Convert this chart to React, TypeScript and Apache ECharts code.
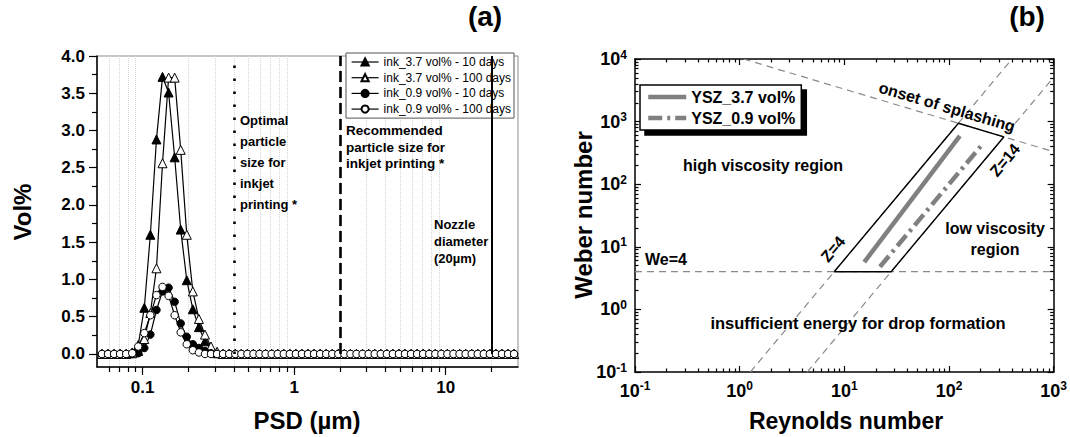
import React, { useEffect, useRef } from "react";
import * as echarts from "echarts";

const FONT = '"Liberation Sans", Arial, Helvetica, sans-serif';

// ---------------- Panel (a): particle size distribution ----------------
const psdSizes = [
  0.0539, 0.0591, 0.0648, 0.071, 0.0779, 0.0854, 0.0936, 0.1026, 0.1125, 0.1234,
  0.1353, 0.1484, 0.1627, 0.1784, 0.1956, 0.2145, 0.2352, 0.2579, 0.2827, 0.31,
  0.3399, 0.3727, 0.4087, 0.4481, 0.4914, 0.5386, 0.5906, 0.6476, 0.7101, 0.7786,
  0.8537, 0.9361, 1.026, 1.125, 1.234, 1.353, 1.484, 1.627, 1.784, 1.956,
  2.145, 2.352, 2.579, 2.827, 3.1, 3.399, 3.727, 4.087, 4.481, 4.914,
  5.386, 5.906, 6.476, 7.101, 7.786, 8.537, 9.361, 10.26, 11.25, 12.34,
  13.53, 14.84, 16.27, 17.84, 19.56, 21.45, 23.52, 25.79, 28.27,
];
const ink37Days10 = [
  0, 0, 0, 0, 0, 0.02, 0.12, 0.62, 1.6, 2.88,
  3.72, 3.51, 2.64, 1.67, 0.99, 0.6, 0.36, 0.17, 0.06, 0.01,
  0, 0, 0, 0, 0, 0, 0, 0, 0, 0,
  0, 0, 0, 0, 0, 0, 0, 0, 0, 0,
  0, 0, 0, 0, 0, 0, 0, 0, 0, 0,
  0, 0, 0, 0, 0, 0, 0, 0, 0, 0,
  0, 0, 0, 0, 0, 0, 0, 0, 0,
];
const ink37Days100 = [
  0, 0, 0, 0, 0, 0.01, 0.04, 0.2, 0.55, 1.15,
  2.56, 3.71, 3.71, 2.74, 1.6, 0.84, 0.47, 0.26, 0.1, 0.03,
  0, 0, 0, 0, 0, 0, 0, 0, 0, 0,
  0, 0, 0, 0, 0, 0, 0, 0, 0, 0,
  0, 0, 0, 0, 0, 0, 0, 0, 0, 0,
  0, 0, 0, 0, 0, 0, 0, 0, 0, 0,
  0, 0, 0, 0, 0, 0, 0, 0, 0,
];
const ink09Days10 = [
  0, 0, 0, 0, 0, 0, 0.01, 0.08, 0.26, 0.59,
  0.84, 0.89, 0.7, 0.41, 0.23, 0.13, 0.08, 0.04, 0.01, 0,
  0, 0, 0, 0, 0, 0, 0, 0, 0, 0,
  0, 0, 0, 0, 0, 0, 0, 0, 0, 0,
  0, 0, 0, 0, 0, 0, 0, 0, 0, 0,
  0, 0, 0, 0, 0, 0, 0, 0, 0, 0,
  0, 0, 0, 0, 0, 0, 0, 0, 0,
];
const ink09Days100 = [
  0, 0, 0, 0, 0, 0.01, 0.1, 0.28, 0.52, 0.79,
  0.9, 0.78, 0.52, 0.29, 0.13, 0.05, 0.02, 0, 0, 0,
  0, 0, 0, 0, 0, 0, 0, 0, 0, 0,
  0, 0, 0, 0, 0, 0, 0, 0, 0, 0,
  0, 0, 0, 0, 0, 0, 0, 0, 0, 0,
  0, 0, 0, 0, 0, 0, 0, 0, 0, 0,
  0, 0, 0, 0, 0, 0, 0, 0, 0,
];
const inkNames = [
  "ink_3.7 vol% - 10 days",
  "ink_3.7 vol% - 100 days",
  "ink_0.9 vol% - 10 days",
  "ink_0.9 vol% - 100 days",
];
const psdMajorTicks = [0.1, 1, 10];
const psdMinorTicks = [0.06, 0.07, 0.08, 0.09, 0.2, 0.3, 0.4, 0.5, 0.6, 0.7, 0.8, 0.9, 2, 3, 4, 5, 6, 7, 8, 9, 20];
const volMajorTicks = [0, 0.5, 1, 1.5, 2, 2.5, 3, 3.5, 4];
const volMinorTicks = [0.25, 0.75, 1.25, 1.75, 2.25, 2.75, 3.25, 3.75];
const optimalSize = 0.4;
const recommendedSize = 2;
const nozzleDiameter = 20;

// ---------------- Panel (b): Re–We printability map ----------------
const reMajorTicks = [0.1, 1, 10, 100, 1000];
const weMajorTicks = [0.1, 1, 10, 100, 1000, 10000];
const reMinorTicks = [
  0.2, 0.3, 0.4, 0.5, 0.6, 0.7, 0.8, 0.9, 2, 3, 4, 5, 6, 7, 8, 9,
  20, 30, 40, 50, 60, 70, 80, 90, 200, 300, 400, 500, 600, 700, 800, 900,
];
const weMinorTicks = [
  0.2, 0.3, 0.4, 0.5, 0.6, 0.7, 0.8, 0.9, 2, 3, 4, 5, 6, 7, 8, 9,
  20, 30, 40, 50, 60, 70, 80, 90, 200, 300, 400, 500, 600, 700, 800, 900,
  2000, 3000, 4000, 5000, 6000, 7000, 8000, 9000,
];
const weLimitLine = [[0.1, 4], [1000, 4]];
const z4Line = [[1.265, 0.1], [400, 10000]];
const z14Line = [[4.43, 0.1], [1000, 5102]];
const splashLine = [[1.09, 10000], [1000, 330]];
const printableWindow = [[8, 4], [28, 4], [334, 569], [123, 942], [8, 4]];
const ysz37 = [[15.5, 5.7], [127, 590]];
const ysz09 = [[21.9, 4.8], [214, 457]];
const yszNames = ["YSZ_3.7 vol%", "YSZ_0.9 vol%"];

const BLACK = "#000";
const GRAY = "#808080";
const DASH_GRAY = "#8a8a8a";

function pairs(xs: number[], ys: number[]) {
  return xs.map((x, i) => [x, ys[i]]);
}

const boldLabel = (size: number) => ({
  color: BLACK,
  fontSize: size,
  fontWeight: "bold" as const,
  fontFamily: FONT,
});

const powRich = {
  b: { ...boldLabel(18) },
  s: { ...boldLabel(12), padding: [0, 0, 9, 0] },
};
const powFormatter = (v: number) => `{b|10}{s|${Math.round(Math.log10(v))}}`;

function tickAxis(opts: any) {
  const {
    gridIndex, type, min, max, position, ticks, len, inside, line, labels, labelOpts, split,
  } = opts;
  return {
    gridIndex,
    type,
    min,
    max,
    position,
    axisLine: { show: !!line, onZero: false, lineStyle: { color: BLACK, width: 1.5 } },
    axisTick: {
      show: true,
      inside,
      length: len,
      customValues: ticks,
      lineStyle: { color: BLACK, width: 1.2 },
    },
    axisLabel: labels
      ? { show: true, customValues: labels, ...labelOpts }
      : { show: false },
    splitLine: split ? { show: true, lineStyle: split } : { show: false },
    minorTick: { show: false },
  };
}

function text(t: string, x: number, y: number, size: number, o: any = {}) {
  const align = o.align || "center";
  const va = o.va || "middle";
  return {
    type: "text",
    x,
    y,
    rotation: o.rotation || 0,
    silent: true,
    z: 100,
    style: {
      text: t,
      font: `bold ${size}px ${FONT}`,
      fill: BLACK,
      align,
      verticalAlign: va,
      textAlign: align,
      textVerticalAlign: va,
      lineHeight: o.lineHeight,
    },
  };
}

function buildOption() {
  const inkSeriesStyle = [
    { symbol: "triangle", size: 9, fill: BLACK },
    { symbol: "triangle", size: 9, fill: "#fff" },
    { symbol: "circle", size: 7.5, fill: BLACK },
    { symbol: "circle", size: 7.5, fill: "#fff" },
  ];
  const inkData = [ink37Days10, ink37Days100, ink09Days10, ink09Days100];

  const leftSeries: any[] = inkData.map((d, i) => ({
    name: inkNames[i],
    type: "line",
    xAxisIndex: 0,
    yAxisIndex: 0,
    data: pairs(psdSizes, d),
    symbol: inkSeriesStyle[i].symbol,
    symbolSize: inkSeriesStyle[i].size,
    showSymbol: true,
    showAllSymbol: true,
    color: BLACK,
    itemStyle: { color: inkSeriesStyle[i].fill, borderColor: BLACK, borderWidth: 1 },
    lineStyle: { color: BLACK, width: 1.2 },
    z: 3,
  }));
  leftSeries[0].markLine = {
    silent: true,
    symbol: ["none", "none"],
    label: { show: false },
    data: [
      [
        { coord: [optimalSize, 0], lineStyle: { color: BLACK, width: 2.6, type: [2.5, 10.5] } },
        { coord: [optimalSize, 4] },
      ],
      [
        { coord: [recommendedSize, 0], lineStyle: { color: BLACK, width: 2.6, type: [11, 5] } },
        { coord: [recommendedSize, 4] },
      ],
      [
        { coord: [nozzleDiameter, 0], lineStyle: { color: BLACK, width: 2, type: "solid" } },
        { coord: [nozzleDiameter, 4] },
      ],
    ],
  };

  const dashed = { color: DASH_GRAY, width: 1.2, type: [7, 5] };
  const refLine = (name: string, data: number[][], lineStyle: any, extra: any = {}) => ({
    name,
    type: "line",
    xAxisIndex: 2,
    yAxisIndex: 2,
    data,
    symbol: "none",
    showSymbol: false,
    silent: true,
    lineStyle,
    ...extra,
  });

  const rightSeries = [
    refLine("We=4", weLimitLine, dashed),
    refLine("Z=4", z4Line, dashed),
    refLine("Z=14", z14Line, dashed),
    refLine("splashing", splashLine, dashed),
    refLine("window", printableWindow, { color: BLACK, width: 1.4 }),
    refLine(yszNames[0], ysz37, { color: GRAY, width: 4.5 }, { color: GRAY, itemStyle: { color: GRAY } }),
    refLine(yszNames[1], ysz09, { color: GRAY, width: 4.5, type: [14, 5, 3, 5] }, { color: GRAY, itemStyle: { color: GRAY } }),
  ];

  const lx = { gridIndex: 0, type: "log", min: 0.05, max: 30 };
  const ly = { gridIndex: 0, type: "value", min: -0.175, max: 4 };
  const rx = { gridIndex: 1, type: "log", min: 0.1, max: 1000 };
  const ry = { gridIndex: 1, type: "log", min: 0.1, max: 10000 };

  return {
    animation: false,
    backgroundColor: "#fff",
    grid: [
      { left: 97, top: 56, width: 421, height: 311, show: true, borderColor: "#8c8c8c", borderWidth: 1, backgroundColor: "transparent" },
      { left: 635, top: 59, width: 422, height: 313 },
    ],
    xAxis: [
      tickAxis({
        ...lx, position: "bottom", ticks: psdMajorTicks, len: 8, inside: false, line: true,
        labels: psdMajorTicks,
        labelOpts: { ...boldLabel(17), margin: 12, formatter: (v: number) => String(Number(v.toPrecision(3))) },
      }),
      tickAxis({
        ...lx, position: "bottom", ticks: psdMinorTicks, len: 5, inside: false, line: false,
        split: { color: "#d4d4d4", type: "dotted", width: 1 },
      }),
      tickAxis({
        ...rx, position: "bottom", ticks: reMajorTicks, len: 6, inside: true, line: true,
        labels: reMajorTicks, labelOpts: { margin: 8, formatter: powFormatter, rich: powRich },
      }),
      tickAxis({ ...rx, position: "bottom", ticks: reMinorTicks, len: 3.5, inside: true, line: false }),
      tickAxis({ ...rx, position: "top", ticks: reMajorTicks, len: 6, inside: true, line: true }),
      tickAxis({ ...rx, position: "top", ticks: reMinorTicks, len: 3.5, inside: true, line: false }),
    ],
    yAxis: [
      tickAxis({
        ...ly, position: "left", ticks: volMajorTicks, len: 8, inside: false, line: true,
        labels: volMajorTicks,
        labelOpts: { ...boldLabel(17), margin: 12, formatter: (v: number) => v.toFixed(1) },
      }),
      tickAxis({ ...ly, position: "left", ticks: volMinorTicks, len: 5, inside: false, line: false }),
      tickAxis({
        ...ry, position: "left", ticks: weMajorTicks, len: 6, inside: true, line: true,
        labels: weMajorTicks, labelOpts: { margin: 8, formatter: powFormatter, rich: powRich },
      }),
      tickAxis({ ...ry, position: "left", ticks: weMinorTicks, len: 3.5, inside: true, line: false }),
      tickAxis({ ...ry, position: "right", ticks: weMajorTicks, len: 6, inside: true, line: true }),
      tickAxis({ ...ry, position: "right", ticks: weMinorTicks, len: 3.5, inside: true, line: false }),
    ],
    legend: [
      {
        data: inkNames,
        orient: "vertical",
        left: 346,
        top: 53,
        itemWidth: 27,
        itemHeight: 9,
        itemGap: 1.7,
        padding: [2, 3, 2, 5],
        borderColor: "#555",
        borderWidth: 1,
        borderRadius: 0,
        backgroundColor: "#fff",
        selectedMode: false,
        lineStyle: { width: 1.2 },
        textStyle: { color: BLACK, fontSize: 12, fontFamily: FONT, lineHeight: 14 },
      },
      {
        data: yszNames,
        orient: "vertical",
        left: 640,
        top: 85,
        itemWidth: 38,
        itemHeight: 10,
        itemGap: 3,
        padding: [3, 6, 3, 6],
        borderColor: BLACK,
        borderWidth: 1.5,
        borderRadius: 0,
        backgroundColor: "#fff",
        shadowColor: BLACK,
        shadowBlur: 0,
        shadowOffsetX: 5,
        shadowOffsetY: 5,
        selectedMode: false,
        itemStyle: { opacity: 0, borderWidth: 0 },
        lineStyle: { width: 4.5 },
        textStyle: { ...boldLabel(16), lineHeight: 18 },
      },
    ],
    series: [...leftSeries, ...rightSeries],
    graphic: [
      text("(a)", 485, 16, 28),
      text("(b)", 1027, 16, 28),
      text("Vol%", 22, 212, 24, { rotation: Math.PI / 2 }),
      text("PSD (µm)", 307, 420, 24),
      text("Weber number", 583, 215, 24, { rotation: Math.PI / 2 }),
      text("Reynolds number", 846, 421, 23),
      text("Optimal\nparticle\nsize for\ninkjet\nprinting *", 240, 110, 13, { align: "left", va: "top", lineHeight: 21 }),
      text("Recommended\nparticle size for\ninkjet printing *", 346, 122, 13.5, { align: "left", va: "top", lineHeight: 16.7 }),
      text("Nozzle\ndiameter\n(20µm)", 434, 216, 13, { align: "left", va: "top", lineHeight: 17 }),
      text("high viscosity region", 763, 165, 16),
      text("onset of splashing", 947, 107, 16, { rotation: -0.288 }),
      text("Z=14", 1005, 160, 16, { rotation: 0.871 }),
      text("Z=4", 833, 249, 16, { rotation: 0.871 }),
      text("We=4", 645, 259, 16, { align: "left" }),
      text("low viscosity\nregion", 995, 238.5, 16, { lineHeight: 21 }),
      text("insufficient energy for drop formation", 858, 323, 16.5),
    ],
  };
}

export default function App() {
  const ref = useRef<HTMLDivElement>(null);
  useEffect(() => {
    if (!ref.current) return;
    const chart = echarts.init(ref.current, undefined, { renderer: "svg" });
    chart.setOption(buildOption() as any);
    return () => chart.dispose();
  }, []);
  return (
    <div
      ref={ref}
      style={{ position: "absolute", left: 0, top: 0, width: 1070, height: 437, background: "#fff" }}
    />
  );
}
